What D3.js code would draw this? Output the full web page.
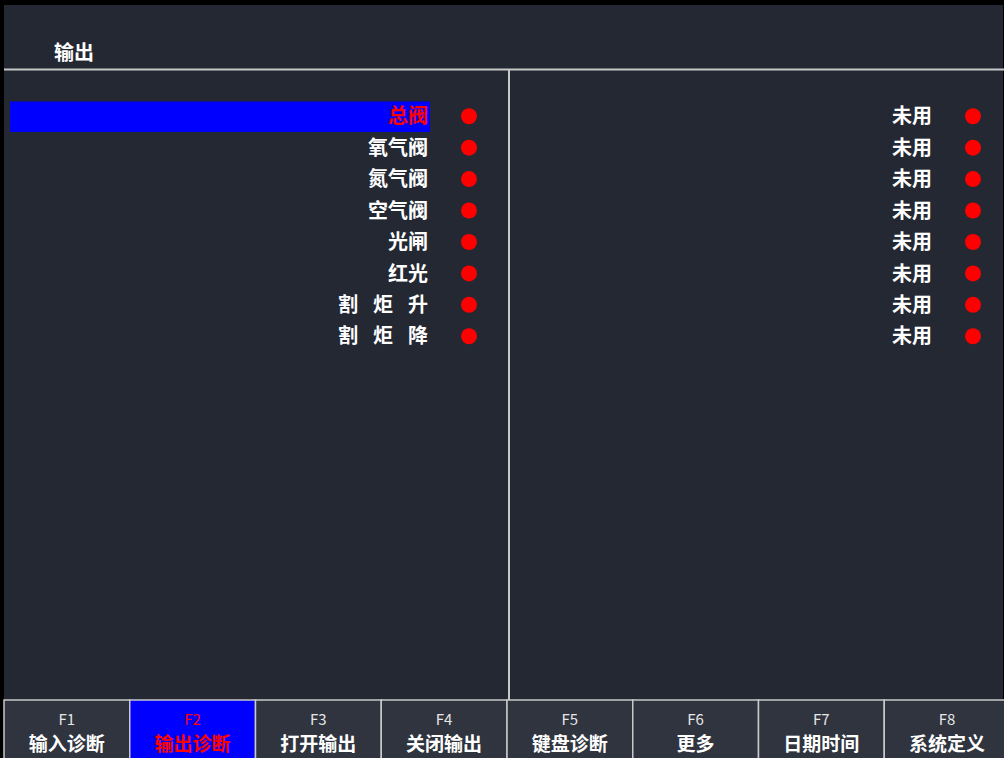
<!DOCTYPE html>
<html>
<head>
<meta charset="utf-8">
<script src="https://cdn.jsdelivr.net/npm/d3@7"></script>
<style>
  body { margin: 0; background: #000; }
  svg text { font-family: "Noto Sans CJK SC", "Noto Sans", sans-serif; }
</style>
</head>
<body>
<div id="wrapper"></div>
<script>
var title = "输出";
var leftLabels = ["总阀", "氧气阀", "氮气阀", "空气阀", "光闸", "红光", "割 炬 升", "割 炬 降"];
var rightLabels = ["未用", "未用", "未用", "未用", "未用", "未用", "未用", "未用"];
var selectedIndex = 0;
var keyNames = ["F1", "F2", "F3", "F4", "F5", "F6", "F7", "F8"];
var keyLabels = ["输入诊断", "输出诊断", "打开输出", "关闭输出", "键盘诊断", "更多", "日期时间", "系统定义"];
var activeKey = 1;

var width = 1004, height = 758;
var bg = "#232833", btnBg = "#2f343e", lineColor = "#c8c8c8";

var svg = d3.select("#wrapper").append("svg")
  .attr("width", width)
  .attr("height", height);

// outer frame
svg.append("rect").attr("width", width).attr("height", height).attr("fill", "#000");
svg.append("rect").attr("x", 4).attr("y", 5).attr("width", width - 5).attr("height", height - 5).attr("fill", bg);

svg.append("text")
  .attr("x", 54).attr("y", 60)
  .attr("fill", "#fff")
  .style("font-size", "20px").style("font-weight", "bold")
  .text(title);

// header line and divider
svg.append("line").attr("x1", 4).attr("x2", width).attr("y1", 69.5).attr("y2", 69.5)
  .attr("stroke", lineColor).attr("stroke-width", 2);
svg.append("line").attr("x1", 509).attr("x2", 509).attr("y1", 69).attr("y2", 700)
  .attr("stroke", lineColor).attr("stroke-width", 2);

var y = d3.scaleBand()
  .domain(d3.range(leftLabels.length))
  .range([100.5, 352])
  .padding(0);

// selection bar
svg.append("rect")
  .attr("x", 10).attr("width", 420)
  .attr("y", y(selectedIndex) + 1).attr("height", y.bandwidth() - 1)
  .attr("fill", "#0000ff");

function drawColumn(labels, textRight, dotX, cls) {
  var g = svg.append("g").attr("class", cls);
  var rows = g.selectAll("g").data(labels).enter().append("g")
    .attr("transform", function(d, i) { return "translate(0," + (y(i) + y.bandwidth() / 2) + ")"; });
  var txt = rows.append("text")
    .attr("x", textRight)
    .attr("dy", "0.36em")
    .attr("text-anchor", "end")
    .attr("fill", function(d, i) { return (cls === "left" && i === selectedIndex) ? "#ff0000" : "#fff"; })
    .style("font-size", "20px").style("font-weight", "bold");
  // spaced labels: one tspan per character, with a wider gap
  txt.each(function(d) {
    var parts = d.split(" ");
    var t = d3.select(this);
    parts.forEach(function(p, k) {
      t.append("tspan").attr("dx", k === 0 ? 0 : 15).text(p);
    });
  });
  rows.append("circle")
    .attr("cx", dotX).attr("cy", 0).attr("r", 8)
    .attr("fill", "#ff0000");
}
drawColumn(leftLabels, 428, 469, "left");
drawColumn(rightLabels, 932, 973, "right");

// function keys
var x = d3.scaleBand().domain(d3.range(keyNames.length)).range([4, 1010]);
var keys = svg.selectAll(".key").data(keyNames).enter().append("g")
  .attr("class", "key")
  .attr("transform", function(d, i) { return "translate(" + x(i) + ",700)"; });
keys.append("rect")
  .attr("width", x.bandwidth()).attr("height", 62)
  .attr("fill", function(d, i) { return i === activeKey ? "#0000ff" : btnBg; })
  .attr("stroke", lineColor).attr("stroke-width", 1.5);
keys.append("text")
  .attr("x", x.bandwidth() / 2).attr("y", 25)
  .attr("text-anchor", "middle")
  .attr("fill", function(d, i) { return i === activeKey ? "#ff0000" : "#e6e6e6"; })
  .style("font-size", "15px")
  .text(function(d) { return d; });
keys.append("text")
  .attr("x", x.bandwidth() / 2).attr("y", 51)
  .attr("text-anchor", "middle")
  .attr("fill", function(d, i) { return i === activeKey ? "#ff0000" : "#fff"; })
  .style("font-size", "19px").style("font-weight", "bold")
  .text(function(d, i) { return keyLabels[i]; });
</script>
</body>
</html>
